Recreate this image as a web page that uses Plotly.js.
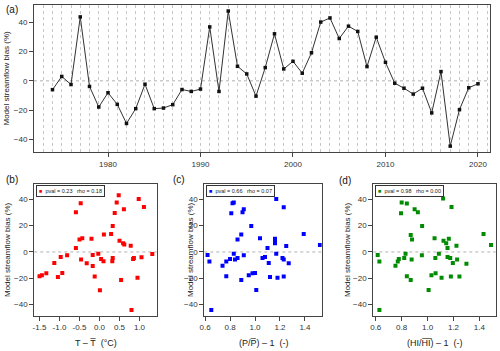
<!DOCTYPE html>
<html>
<head>
<meta charset="utf-8">
<script src="https://cdn.plot.ly/plotly-3.0.1.min.js"></script>
<style>
  html, body { margin: 0; padding: 0; background: #fff; }
  #chart { width: 500px; height: 351px; }
</style>
</head>
<body>
<div id="chart"></div>
<script>
// (a) yearly model streamflow bias
const years = [1974, 1975, 1976, 1977, 1978, 1979, 1980, 1981, 1982, 1983,
               1984, 1985, 1986, 1987, 1988, 1989, 1990, 1991, 1992, 1993,
               1994, 1995, 1996, 1997, 1998, 1999, 2000, 2001, 2002, 2003,
               2004, 2005, 2006, 2007, 2008, 2009, 2010, 2011, 2012, 2013,
               2014, 2015, 2016, 2017, 2018, 2019, 2020];
const bias = [-6, 3, -2.5, 43.5, -3.8, -17.8, -8.1, -16, -29, -18.9,
              -2.3, -18.9, -18.5, -16.2, -5.9, -7.2, -5.6, 36.7, -7.2, 47.5,
              9.9, 4.7, -10.4, 9, 32, 8.1, 13.3, 5.2, 19.1, 40,
              42.8, 28.8, 37.2, 33.6, 9.7, 29.7, 12.6, -1.6, -5, -9,
              -5, -21.8, 6.3, -44.4, -19.6, -4.7, -2];

// (b) temperature anomaly vs bias
const tempAnom = [-1.5, -1.44, -1.33, -1.13, -1.04, -0.97, -0.93, -0.81, -0.59, -0.59,
                  -0.5, -0.47, -0.46, -0.43, -0.32, -0.2, -0.17, -0.17, -0.12, -0.03,
                  0.01, 0.04, 0.1, 0.11, 0.29, 0.32, 0.33, 0.33, 0.38, 0.43,
                  0.48, 0.5, 0.54, 0.59, 0.61, 0.62, 0.78, 0.8, 0.84, 0.86,
                  0.95, 0.98, 1.05, 1.11, 1.32];
const biasT = [-18.5, -17.7, -16.2, -8.4, -19, -3.8, -16, -2.5, 30.1, 3,
               9.4, 37, -5.8, 10.4, -8.6, 10.1, -2.3, -10.6, -18.7, -1.3,
               -29.1, -5.3, -7.1, 13.2, 13.7, -7.1, 19.7, -4.6, 29.6, 37.5,
               43, 8.6, -21.3, 6.6, 32.4, 5.6, 4.8, -44, -5.3, -4.6,
               -19.5, 40.3, -4, 34.2, -1.5];

// (c) precipitation ratio vs bias
const precipRatio = [0.62, 0.635, 0.65, 0.74, 0.77, 0.77, 0.8, 0.81, 0.82, 0.83,
                     0.83, 0.84, 0.86, 0.86, 0.89, 0.89, 0.9, 0.91, 0.91, 0.95,
                     0.97, 0.98, 1.0, 1.01, 1.04, 1.06, 1.08, 1.1, 1.11, 1.12,
                     1.16, 1.16, 1.16, 1.17, 1.17, 1.18, 1.22, 1.23, 1.23, 1.23,
                     1.25, 1.27, 1.39, 1.52];
const biasP = [-2.3, -7.3, -44, -10.4, -7.3, -18.5, -5.3, 29.4, 37, 37.5,
               -1.3, -5.8, 9.4, -4.6, -21.3, 13.2, 30.1, -2.5, 32.4, -17.7,
               19.7, -16.2, -16, -28.9, 10.4, -4.6, -3.8, 3, -8.4, -19,
               6.6, 8.6, 10.1, -1.3, 40.3, -19.5, -4.6, -5.8, 34, -18.7,
               4.6, -8.6, 13.7, 5.3];

// (d) HI ratio vs bias
const hiRatio = [0.615, 0.628, 0.628, 0.752, 0.77, 0.778, 0.795, 0.8, 0.82, 0.83,
                 0.84, 0.84, 0.87, 0.877, 0.88, 0.87, 0.9, 0.925, 0.956, 0.958,
                 1.008, 1.03, 1.054, 1.06, 1.062, 1.087, 1.108, 1.12, 1.123, 1.144,
                 1.154, 1.154, 1.164, 1.175, 1.18, 1.185, 1.195, 1.223, 1.228, 1.246,
                 1.3, 1.432, 1.49];
const biasHI = [-2.3, -7.3, -44, -10.4, -7.3, -5.3, 29.4, 37.5, -4.6, -1.3,
                36.7, -18.5, 12.9, -5.8, 9.4, -21.3, 32.4, 30.1, -2.5, 19.7,
                -28.9, -17.7, 10.4, -4.6, -16.2, -1.3, -19.5, 40.5, 8.6, 6.6,
                3, -3.8, 10.1, -4.6, -18.7, 34.2, -8.4, 4.8, -5.8, -18.7,
                -8.9, 13.7, 5.3];

const statsT = 'pval = 0.23   rho = 0.18';
const statsP = 'pval = 0.66   rho = 0.07';
const statsHI = 'pval = 0.98   rho = 0.00';

const fontFam = 'Liberation Sans, Arial, sans-serif';
const axisCol = '#444';

function baseAxis(extra) {
    return Object.assign({
        showline: true, mirror: true, linecolor: axisCol, linewidth: 1,
        ticks: 'outside', ticklen: 4, tickcolor: axisCol, tickwidth: 1,
        tickfont: {size: 8, color: '#333', family: fontFam},
        showgrid: false, zeroline: false, fixedrange: true
    }, extra);
}

const yBias = {range: [-48.4, 51.6], tickvals: [-40, -20, 0, 20, 40]};

const traces = [
    {x: years, y: bias, xaxis: 'x', yaxis: 'y', type: 'scatter', mode: 'lines+markers',
     line: {color: '#333', width: 1}, marker: {symbol: 'square', size: 3.5, color: '#111'}},
    {x: tempAnom, y: biasT, xaxis: 'x2', yaxis: 'y2', type: 'scatter', mode: 'markers',
     marker: {symbol: 'square', size: 4, color: '#ff0000'}},
    {x: precipRatio, y: biasP, xaxis: 'x3', yaxis: 'y3', type: 'scatter', mode: 'markers',
     marker: {symbol: 'square', size: 4, color: '#0000ff'}},
    {x: hiRatio, y: biasHI, xaxis: 'x4', yaxis: 'y4', type: 'scatter', mode: 'markers',
     marker: {symbol: 'square', size: 4, color: '#008b00'}}
];

const W = 500, H = 351;
const px = v => v / W;
const py = v => 1 - v / H;

const gridDot = {gridcolor: '#c8c8c8', griddash: 'dot', gridwidth: 1};

const layout = {
    width: W, height: H,
    margin: {l: 0, r: 0, t: 0, b: 0},
    paper_bgcolor: '#fff', plot_bgcolor: '#fff',
    showlegend: false,
    font: {family: fontFam, color: '#222'},
    xaxis: baseAxis(Object.assign({
        domain: [px(34), px(490)], anchor: 'y', range: [1972, 2021.3],
        tick0: 1980, dtick: 10, showgrid: true,
        minor: Object.assign({tick0: 1973, dtick: 1, showgrid: true, ticks: ''}, gridDot)
    }, gridDot)),
    yaxis: baseAxis(Object.assign({domain: [py(152), py(5)], anchor: 'x'}, yBias)),
    xaxis2: baseAxis({domain: [px(34.3), px(156.7)], anchor: 'y2', range: [-1.63, 1.43],
                      tickvals: [-1.5, -1, -0.5, 0, 0.5, 1], ticktext: ['-1.5', '-1.0', '-0.5', '0.0', '0.5', '1.0']}),
    yaxis2: baseAxis(Object.assign({domain: [py(315.7), py(184)], anchor: 'x2'}, yBias)),
    xaxis3: baseAxis({domain: [px(204.3), px(321.7)], anchor: 'y3', range: [0.594, 1.534],
                      tickvals: [0.6, 0.8, 1, 1.2, 1.4], ticktext: ['0.6', '0.8', '1.0', '1.2', '1.4']}),
    yaxis3: baseAxis(Object.assign({domain: [py(315.7), py(184)], anchor: 'x3'}, yBias)),
    xaxis4: baseAxis({domain: [px(373.3), px(495.7)], anchor: 'y4', range: [0.581, 1.526],
                      tickvals: [0.6, 0.8, 1, 1.2, 1.4], ticktext: ['0.6', '0.8', '1.0', '1.2', '1.4']}),
    yaxis4: baseAxis(Object.assign({domain: [py(315.7), py(184)], anchor: 'x4'}, yBias)),
    shapes: ['', '2', '3', '4'].map(n => ({
        type: 'line', xref: 'x' + n + ' domain', x0: 0, x1: 1, yref: 'y' + n, y0: 0, y1: 0,
        line: {color: '#b0b0b0', width: 1, dash: 'dot'}, layer: 'below'
    })),
    annotations: []
};

const ann = layout.annotations;
function addText(text, x, y, opts) {
    ann.push(Object.assign({text: text, xref: 'paper', yref: 'paper', x: x, y: y,
        showarrow: false, font: {size: 8, color: '#222', family: fontFam}}, opts));
}

// panel letters
addText('(a)', px(4), py(9.5), {xanchor: 'left', yanchor: 'middle', font: {size: 10, color: '#111', family: fontFam}});
addText('(b)', px(4), py(179), {xanchor: 'left', yanchor: 'middle', font: {size: 10, color: '#111', family: fontFam}});
addText('(c)', px(171), py(180), {xanchor: 'left', yanchor: 'middle', font: {size: 10, color: '#111', family: fontFam}});
addText('(d)', px(337), py(180.5), {xanchor: 'left', yanchor: 'middle', font: {size: 10, color: '#111', family: fontFam}});

// axis titles
const yTitle = 'Model streamflow bias (%)';
addText(yTitle, px(6), py(78.5), {textangle: -90, xanchor: 'center', yanchor: 'middle'});
addText(yTitle, px(7), py(250), {textangle: -90, xanchor: 'center', yanchor: 'middle'});
addText(yTitle, px(190), py(250), {textangle: -90, xanchor: 'center', yanchor: 'middle'});
addText(yTitle, px(347), py(250), {textangle: -90, xanchor: 'center', yanchor: 'middle'});
addText('T \u2013 T\u0305  (\u00b0C)', px(95.5), py(342.5), {xanchor: 'center', yanchor: 'middle', font: {size: 9, color: '#222', family: fontFam}});
addText('(P/P\u0305) \u2013 1  (-)', px(264), py(342.5), {xanchor: 'center', yanchor: 'middle', font: {size: 9, color: '#222', family: fontFam}});
addText('(HI/H\u0305I\u0305) \u2013 1  (-)', px(435), py(342.5), {xanchor: 'center', yanchor: 'middle', font: {size: 9, color: '#222', family: fontFam}});

// stats boxes
function statsBox(stats, color, left) {
    ann.push({
        text: '<span style="color:' + color + '">\u25a0</span>  ' + stats,
        xref: 'paper', yref: 'paper', x: px(left), y: py(185), xanchor: 'left', yanchor: 'top',
        showarrow: false, bgcolor: '#fff', bordercolor: '#333', borderwidth: 1, borderpad: 2,
        font: {size: 5.5, color: '#222', family: fontFam}
    });
}
statsBox(statsT, '#ff0000', 35.5);
statsBox(statsP, '#0000ff', 205.8);
statsBox(statsHI, '#008b00', 374.8);

Plotly.newPlot('chart', traces, layout, {staticPlot: true, displayModeBar: false});
</script>
</body>
</html>
